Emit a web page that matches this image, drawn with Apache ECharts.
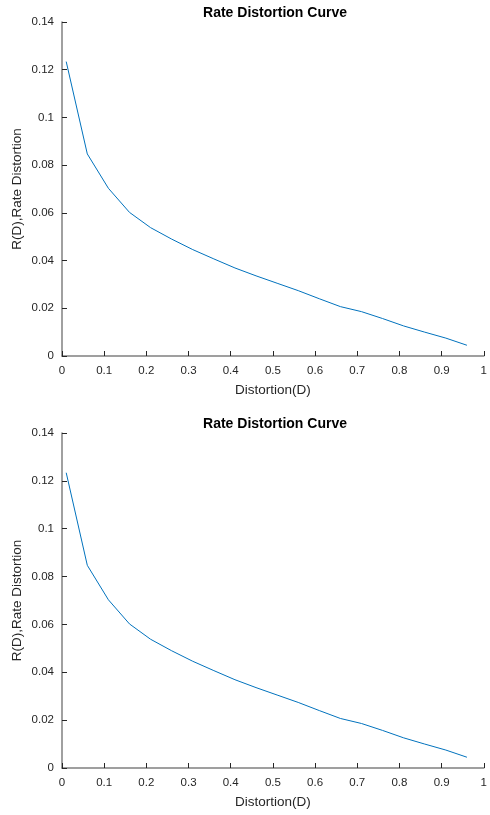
<!DOCTYPE html>
<html>
<head>
<meta charset="utf-8">
<script src="https://cdn.jsdelivr.net/npm/echarts@6/dist/echarts.min.js"></script>
<style>html,body{margin:0;padding:0;background:#fff}#c{width:490px;height:815px}</style>
</head>
<body>
<div id="c"></div>
<script>
const distortion = [0.01,0.06,0.11,0.16,0.21,0.26,0.31,0.36,0.41,0.46,0.51,0.56,0.61,0.66,0.71,0.76,0.81,0.86,0.91,0.96];
const rate = [0.1234,0.0847,0.0703,0.0602,0.0538,0.0490,0.0446,0.0407,0.0369,0.0336,0.0305,0.0274,0.0240,0.0207,0.0186,0.0157,0.0126,0.0100,0.0075,0.0045];
const xTicks = {min:0,max:1,interval:0.1};
const yTicks = {min:0,max:0.14,interval:0.02};
const titleText = 'Rate Distortion Curve';
const xName = 'Distortion(D)';
const yName = 'R(D),Rate Distortion';

const font = 'Liberation Sans, Arial, Helvetica, sans-serif';
const chart = echarts.init(document.getElementById('c'), null, {renderer:'canvas'});
const grids = [
  {left:62, top:22, width:425, height:334},
  {left:62, top:433, width:425, height:335}
];
const fmt = v => String(+(+v).toFixed(2));
function xa(i){return {
  type:'value', gridIndex:i, min:xTicks.min, max:xTicks.max, interval:xTicks.interval,
  name:xName, nameLocation:'middle', nameGap:27, nameMoveOverlap:false,
  nameTextStyle:{color:'#262626', fontSize:13.5, fontFamily:font},
  axisLine:{show:true, lineStyle:{color:'#808080', width:1.5}},
  axisTick:{show:true, inside:true, length:5, lineStyle:{color:'#262626', width:1}},
  axisLabel:{color:'#262626', fontSize:11.5, fontFamily:font, margin:9, formatter:fmt},
  splitLine:{show:false}
};}
function ya(i){return {
  type:'value', gridIndex:i, min:yTicks.min, max:yTicks.max, interval:yTicks.interval,
  name:yName, nameLocation:'middle', nameGap:38, nameRotate:90, nameMoveOverlap:false,
  nameTextStyle:{color:'#262626', fontSize:13.5, fontFamily:font},
  axisLine:{show:true, lineStyle:{color:'#808080', width:1.5}},
  axisTick:{show:true, inside:true, length:5, lineStyle:{color:'#262626', width:1}},
  axisLabel:{color:'#262626', fontSize:11.5, fontFamily:font, margin:8, formatter:fmt},
  splitLine:{show:false}
};}
const data = distortion.map((d,i)=>[d, rate[i]]);
chart.setOption({
  animation:false,
  title:[
    {text:titleText, left:270, textAlign:'center', top:1, textStyle:{fontSize:14, fontWeight:'bold', color:'#000', fontFamily:font}},
    {text:titleText, left:270, textAlign:'center', top:412, textStyle:{fontSize:14, fontWeight:'bold', color:'#000', fontFamily:font}}
  ],
  grid:grids,
  xAxis:[xa(0), xa(1)],
  yAxis:[ya(0), ya(1)],
  series:[0,1].map(i=>({type:'line', xAxisIndex:i, yAxisIndex:i, data:data, showSymbol:false, symbol:'none',
    lineStyle:{color:'#0072BD', width:1}}))
});
</script>
</body>
</html>
